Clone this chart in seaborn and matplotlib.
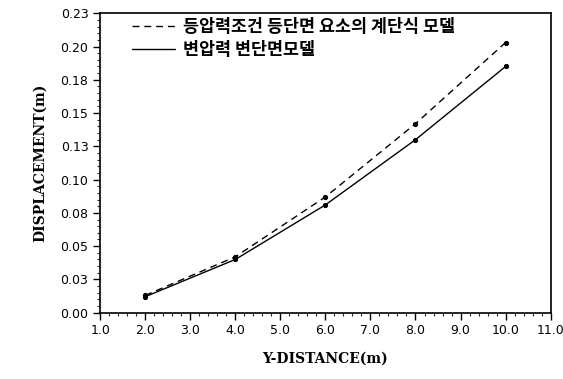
import numpy as np
import pandas as pd
import seaborn as sns
import matplotlib.pyplot as plt
from matplotlib.ticker import MultipleLocator, FixedLocator

# Data
y_distance = [2.0, 4.0, 6.0, 8.0, 10.0]
disp_uniform = [0.013, 0.042, 0.087, 0.142, 0.203]   # dashed
disp_variable = [0.012, 0.040, 0.081, 0.130, 0.185]  # solid

series_names = ["등압력조건 등단면 요소의 계단식 모델", "변압력 변단면모델"]

x_ticks = [1.0, 2.0, 3.0, 4.0, 5.0, 6.0, 7.0, 8.0, 9.0, 10.0, 11.0]
y_ticks = [0.0, 0.025, 0.05, 0.075, 0.10, 0.125, 0.15, 0.175, 0.20, 0.225]
y_tick_labels = ["0.00", "0.03", "0.05", "0.08", "0.10", "0.13", "0.15", "0.18", "0.20", "0.23"]

df = pd.DataFrame({
    "x": y_distance * 2,
    "y": disp_uniform + disp_variable,
    "model": [series_names[0]] * len(y_distance) + [series_names[1]] * len(y_distance),
})

sns.set_style("ticks")
plt.rcParams["font.family"] = ["DejaVu Sans"]
plt.rcParams["text.color"] = "black"
plt.rcParams["axes.labelcolor"] = "black"

fig = plt.figure(figsize=(5.63, 3.79), dpi=100)
ax = fig.add_axes([0.178, 0.175, 0.800, 0.790])

sns.lineplot(
    data=df, x="x", y="y", hue="model", style="model",
    palette=["black", "black"],
    dashes={series_names[0]: (5, 3.5), series_names[1]: ""},
    markers={series_names[0]: "o", series_names[1]: "o"},
    markersize=3, markeredgecolor="black", linewidth=1.0, ax=ax,
)

ax.set_xlim(1.0, 11.0)
ax.set_ylim(0.0, 0.225)
ax.xaxis.set_major_locator(FixedLocator(x_ticks))
ax.set_xticklabels([f"{v:.1f}" for v in x_ticks])
ax.xaxis.set_minor_locator(MultipleLocator(0.2))
ax.yaxis.set_major_locator(FixedLocator(y_ticks))
ax.set_yticklabels(y_tick_labels)
ax.yaxis.set_minor_locator(MultipleLocator(0.005))

ax.tick_params(which="major", direction="out", length=5, width=1.0, labelsize=9, colors="black")
ax.tick_params(which="minor", direction="out", length=2.5, width=0.8)
for sp in ax.spines.values():
    sp.set_visible(True)
    sp.set_linewidth(1.2)
    sp.set_color("black")

ax.set_xlabel("Y-DISTANCE(m)", family="DejaVu Serif", fontweight="bold", fontsize=10, labelpad=10)
ax.set_ylabel("DISPLACEMENT(m)", family="DejaVu Serif", fontweight="bold", fontsize=10, labelpad=10)

handles, labels = ax.get_legend_handles_labels()
for h in handles:
    h.set_marker("")
leg = ax.legend(
    handles, labels, loc="upper left", frameon=False,
    bbox_to_anchor=(0.035, 1.035), handlelength=2.5, handletextpad=0.45,
    labelspacing=0.25,
    prop={"family": ["Noto Sans CJK KR", "DejaVu Sans"], "size": 12.5, "weight": "bold"},
)
for t in leg.get_texts():
    t.set_color("black")

fig.savefig("out.png", dpi=100)
